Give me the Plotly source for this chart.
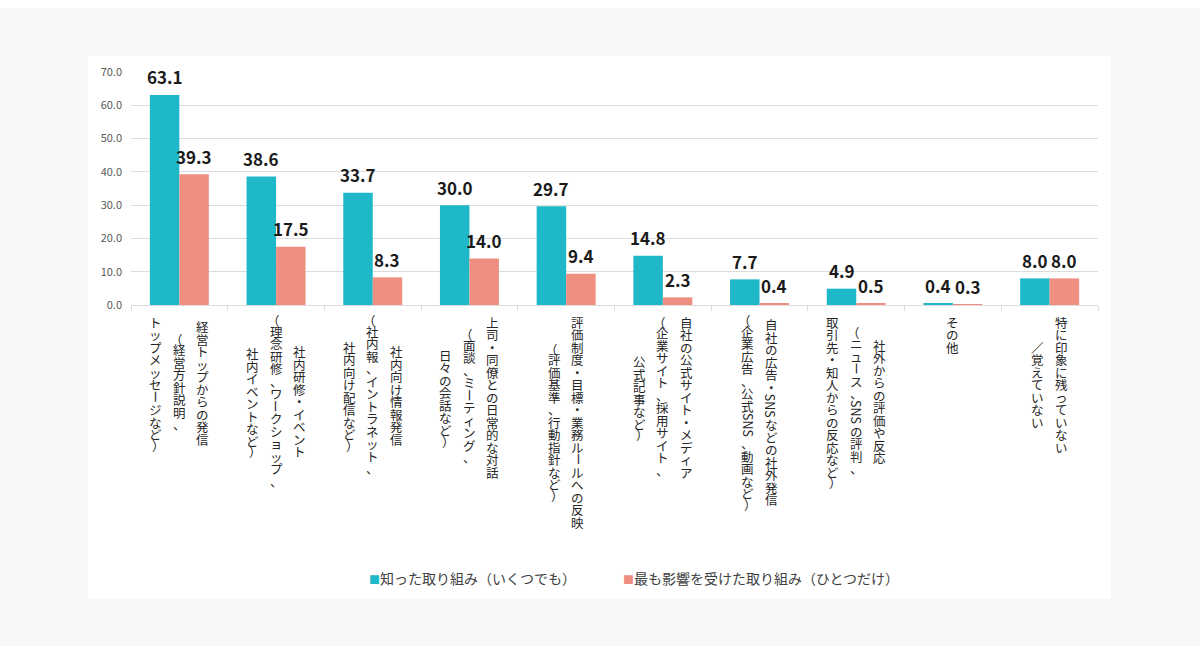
import plotly.graph_objects as go

# ---------------- data ----------------
CATEGORIES = [
    "経営トップからの発信",
    "社内研修・イベント",
    "社内向け情報発信",
    "上司・同僚との日常的な対話",
    "評価制度・目標・業務ルールへの反映",
    "自社の公式サイト・メディア",
    "自社の広告・SNSなどの社外発信",
    "社外からの評価や反応",
    "その他",
    "特に印象に残っていない",
]
KNOWN = [63.1, 38.6, 33.7, 30.0, 29.7, 14.8, 7.7, 4.9, 0.4, 8.0]
MOST = [39.3, 17.5, 8.3, 14.0, 9.4, 2.3, 0.4, 0.5, 0.3, 8.0]
SERIES_NAMES = ["知った取り組み（いくつでも）", "最も影響を受けた取り組み（ひとつだけ）"]
LABEL_LINES = [
    ["経営トップからの発信", "（経営方針説明、", "トップメッセージなど）"],
    ["社内研修・イベント", "（理念研修、ワークショップ、", "社内イベントなど）"],
    ["社内向け情報発信", "（社内報、イントラネット、", "社内向け配信など）"],
    ["上司・同僚との日常的な対話", "（面談、ミーティング、", "日々の会話など）"],
    ["評価制度・目標・業務ルールへの反映", "（評価基準、行動指針など）"],
    ["自社の公式サイト・メディア", "（企業サイト、採用サイト、", "公式記事など）"],
    ["自社の広告・SNSなどの社外発信", "（企業広告、公式SNS、動画など）"],
    ["社外からの評価や反応", "（ニュース、SNSの評判、", "取引先・知人からの反応など）"],
    ["その他"],
    ["特に印象に残っていない", "／覚えていない"],
]
Y_TICKS = [0, 10, 20, 30, 40, 50, 60, 70]

# ---------------- style ----------------
W, H = 1200, 646
ML, MR, MT, MB = 131, 102, 72, 341
PW, PH = W - ML - MR, H - MT - MB
TEAL = "#1fb8c9"
SALMON = "#ef8f81"
GRID = "#dcdcdc"
FONT = "Noto Sans CJK JP"
BARGAP = 0.39

LBL_FONT = 12.5
PITCH = 12.5
COL_GAP = 23.5
TOP_OFF = 11  # px below axis where label block starts
LBL_COLOR = "#262626"

fig = go.Figure()
fig.add_bar(x=CATEGORIES, y=KNOWN, name=SERIES_NAMES[0], marker_color=TEAL,
            marker_line_width=0, showlegend=False)
fig.add_bar(x=CATEGORIES, y=MOST, name=SERIES_NAMES[1], marker_color=SALMON,
            marker_line_width=0, showlegend=False)

annotations = []

# value labels
bar_off = PW / len(CATEGORIES) * (1 - BARGAP) / 4
for vals, sh in ((KNOWN, -bar_off), (MOST, bar_off)):
    for c, v in zip(CATEGORIES, vals):
        annotations.append(dict(
            x=c, y=v, xref="x", yref="y", text=f"<b>{v:.1f}</b>", showarrow=False,
            xanchor="center", yanchor="middle", xshift=sh, yshift=18,
            borderpad=0,
            font=dict(family=FONT, size=17, color="#1a1a1a")))


# vertical (tategaki) category labels: one upright glyph per cell,
# latin words and the long vowel mark turned 90 degrees
def tokenize(s):
    toks = []
    i = 0
    while i < len(s):
        ch = s[i]
        if ch.isascii() and ch.isalpha():
            j = i
            while j < len(s) and s[j].isascii() and s[j].isalpha():
                j += 1
            toks.append((s[i:j], 90, 2 * PITCH, 0))
            i = j
            continue
        if ch == "ー":
            toks.append((ch, 90, PITCH, 0))
        elif ch == "（":
            toks.append((ch, 0, PITCH * 0.7, -3))
        elif ch == "）":
            toks.append((ch, 0, PITCH * 0.7, 3))
        else:
            toks.append((ch, 0, PITCH, 0))
        i += 1
    return toks


for cat, lines in zip(CATEGORIES, LABEL_LINES):
    cols = [tokenize(s) for s in lines]
    heights = [sum(t[2] for t in col) for col in cols]
    maxh = max(heights)
    n = len(cols)
    for j, (col, hgt) in enumerate(zip(cols, heights)):
        xs = ((n - 1) / 2 - j) * COL_GAP
        pos = TOP_OFF + (maxh - hgt) / 2
        for text, ang, h, dx in col:
            center = pos + h / 2
            pos += h
            annotations.append(dict(
                x=cat, xref="x", y=0, yref="paper", text=text, showarrow=False,
                textangle=ang, xanchor="center", yanchor="middle", borderpad=0,
                xshift=xs + dx, yshift=-center,
                font=dict(family=FONT, size=LBL_FONT, color=LBL_COLOR)))


# legend (as text with square glyphs)
def px_x(px):
    return (px - ML) / PW


def px_y(py):
    return (H - MB - py) / PH


for name, color, left in ((SERIES_NAMES[0], TEAL, 367), (SERIES_NAMES[1], SALMON, 621)):
    annotations.append(dict(
        x=px_x(left), y=px_y(578), xref="paper", yref="paper", showarrow=False,
        xanchor="left", yanchor="middle",
        text=f'<span style="color:{color};font-size:11px">■</span>{name}',
        font=dict(family=FONT, size=14, color="#404040")))

shapes = [
    dict(type="rect", xref="paper", yref="paper", layer="below",
         x0=px_x(88), x1=px_x(1111), y0=px_y(599), y1=px_y(56),
         fillcolor="white", line_width=0),
    dict(type="rect", xref="paper", yref="paper", layer="below",
         x0=px_x(0), x1=px_x(1200), y0=px_y(8), y1=px_y(0),
         fillcolor="white", line_width=0),
]

fig.update_layout(
    width=W, height=H,
    margin=dict(l=ML, r=MR, t=MT, b=MB, pad=0),
    paper_bgcolor="#f7f7f7", plot_bgcolor="rgba(0,0,0,0)",
    barmode="group", bargap=BARGAP, bargroupgap=0,
    font=dict(family=FONT),
    annotations=annotations, shapes=shapes,
    showlegend=False,
)
fig.update_xaxes(showticklabels=False, showline=True, linecolor=GRID, linewidth=1,
                 ticks="outside", tickson="boundaries", ticklen=5, tickcolor=GRID,
                 showgrid=False, zeroline=False)
fig.update_yaxes(range=[0, 70], tickvals=Y_TICKS, tickformat=".1f",
                 showgrid=True, gridcolor=GRID, gridwidth=1, zeroline=False,
                 ticks="", ticklabelstandoff=8,
                 tickfont=dict(family=FONT, size=11, color="#595959"))

fig.write_html("out.html")
